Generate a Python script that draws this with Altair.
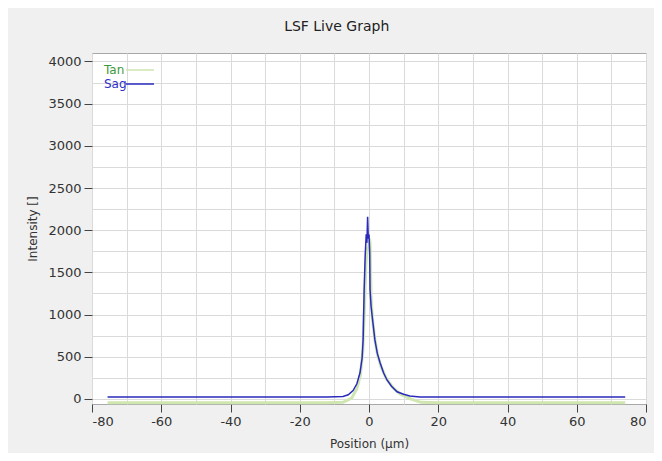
import altair as alt
import pandas as pd

# Sag series (position in µm, intensity)
sag_pos = [-75.5, -12, -7.5, -6, -4.6, -3.5, -2.6, -2.0, -1.7, -1.4, -1.1, -0.8, -0.6, -0.4,
           -0.2, 0.0, 0.2, 0.3, 0.6, 1.0, 1.7, 2.4, 3.2, 4.2, 5.2, 6.5, 8.1, 10, 11.8, 14.7, 20, 74]
sag_val = [24, 24, 30, 50, 100, 180, 310, 480, 700, 1290, 1700, 1950, 1850, 2160,
           1900, 1950, 1750, 1300, 1100, 950, 700, 540, 430, 310, 225, 150, 85, 55, 35, 24, 24, 24]

# Tan series
tan_pos = [-75.5, -12, -7.5, -5, -3.5, -2.5, -1.8, -1.3, -0.9, -0.5, -0.2, 0.1, 0.3, 0.6,
           1.0, 1.7, 2.5, 3.5, 5, 7, 9, 12, 15, 20, 74]
tan_val = [-45, -45, -40, 10, 120, 280, 560, 1100, 1600, 1800, 1750, 1900, 1850, 1200,
           950, 700, 520, 380, 240, 130, 60, 0, -40, -45, -45]

df_sag = pd.DataFrame({"pos": sag_pos, "val": sag_val, "series": "Sag"})
df_tan = pd.DataFrame({"pos": tan_pos, "val": tan_val, "series": "Tan"})

x_grid = list(range(-80, 81, 10))
y_grid = list(range(0, 4001, 250))

FONT = "DejaVu Sans"

color_scale = alt.Scale(domain=["Tan", "Sag"], range=["#cfe6b0", "#2a2abd"])

x_enc = alt.X("pos:Q", scale=alt.Scale(domain=[-80, 80], nice=False, zero=False),
              axis=alt.Axis(values=x_grid, title="Position (µm)",
                            labelExpr="datum.value % 20 === 0 ? '' + datum.value : ''",
                            tickOpacity={"condition": {"test": "datum.value % 20 === 0", "value": 1}, "value": 0},
                            grid=True, gridColor="#dadada", tickSize=8, tickColor="#444444",
                            domain=False, labelPadding=3, titlePadding=10))
y_enc = alt.Y("val:Q", scale=alt.Scale(domain=[-60, 4100], nice=False, zero=False),
              axis=alt.Axis(values=y_grid, title="Intensity []",
                            labelExpr="datum.value % 500 === 0 ? '' + datum.value : ''",
                            tickOpacity={"condition": {"test": "datum.value % 500 === 0", "value": 1}, "value": 0},
                            grid=True, gridColor="#dadada", tickSize=8, tickColor="#444444",
                            domain=False, labelPadding=3, titlePadding=8))

legend = alt.Legend(title=None, orient="none", legendX=9, legendY=9, direction="vertical",
                    symbolType="M-2,0H2", symbolSize=196, symbolStrokeWidth=1.5,
                    symbolOffset=31, labelOffset={"expr": "-44"}, padding=0,
                    rowPadding={"expr": "-2"},
                    labelFont=FONT, labelFontSize=12,
                    labelColor={"expr": "datum.label === 'Tan' ? '#3c9a3c' : '#2d2dc8'"})

tan = alt.Chart(df_tan).mark_line(strokeWidth=3, interpolate="linear").encode(
    x=x_enc, y=y_enc,
    color=alt.Color("series:N", scale=color_scale, legend=legend),
)
sag = alt.Chart(df_sag).mark_line(strokeWidth=1.5, interpolate="linear").encode(
    x=x_enc, y=y_enc,
    color=alt.Color("series:N", scale=color_scale, legend=legend),
)

chart = alt.layer(tan, sag).properties(
    width=554, height=351,
    padding={"left": 84, "top": 45, "right": 8, "bottom": 49},
    autosize=alt.AutoSizeParams(type="none"),
    title=alt.TitleParams("LSF Live Graph", frame="bounds", anchor="middle", offset=19,
                          font=FONT, fontSize=14, fontWeight="normal", color="#222222"),
).configure(background="#f0f0f0").configure_view(
    stroke="#a8a8a8", fill="white"
).configure_axis(
    labelFont=FONT, labelFontSize=13, labelColor="#333333",
    titleFont=FONT, titleFontSize=12, titleColor="#333333", titleFontWeight="normal",
)

chart.save("out.html", embed_options={"renderer": "svg", "actions": False})
